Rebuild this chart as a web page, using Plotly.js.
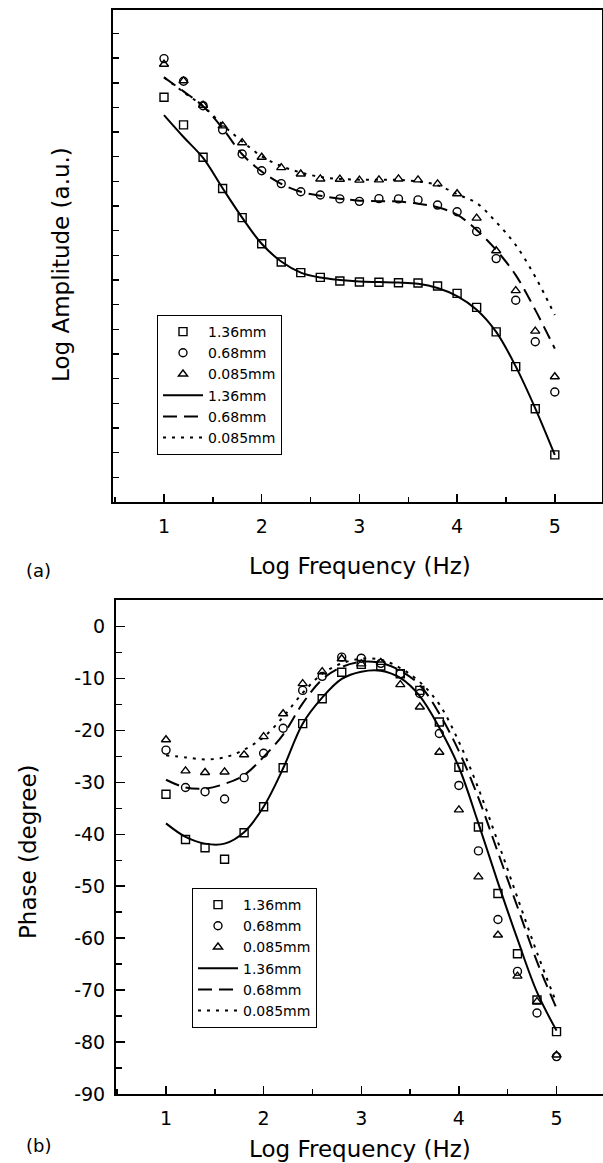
<!DOCTYPE html>
<html>
<head>
<meta charset="utf-8">
<script src="https://cdn.plot.ly/plotly-3.0.1.min.js"></script>
<style>
  html, body { margin: 0; padding: 0; background: #fff; }
  #chart { width: 603px; height: 1163px; }
</style>
</head>
<body>
<div id="chart"></div>
<script>
// ---------- data ----------
const logFreq = [1.0, 1.2, 1.4, 1.6, 1.8, 2.0, 2.2, 2.4, 2.6, 2.8, 3.0, 3.2, 3.4, 3.6, 3.8, 4.0, 4.2, 4.4, 4.6, 4.8, 5.0];
const seriesNames = ["1.36mm", "0.68mm", "0.085mm"];

// (a) log amplitude, arbitrary units — measured points
const ampMeas136 = [16.41, 15.29, 13.98, 12.71, 11.53, 10.47, 9.73, 9.30, 9.11, 8.96, 8.92, 8.91, 8.89, 8.88, 8.76, 8.46, 7.89, 6.90, 5.49, 3.78, 1.91];
const ampMeas068 = [17.98, 17.06, 16.07, 15.09, 14.11, 13.43, 12.91, 12.58, 12.45, 12.29, 12.19, 12.30, 12.29, 12.25, 12.04, 11.77, 10.97, 9.87, 8.18, 6.50, 4.46];
const ampMeas0085 = [17.75, 17.08, 16.09, 15.25, 14.57, 13.98, 13.56, 13.30, 13.10, 13.09, 13.05, 13.06, 13.10, 13.06, 12.90, 12.50, 11.51, 10.19, 8.57, 6.93, 5.08];
// (a) model curves
const ampFit136 = [15.69, 14.80, 13.95, 12.72, 11.53, 10.47, 9.75, 9.30, 9.10, 9.00, 8.94, 8.92, 8.90, 8.85, 8.68, 8.35, 7.80, 6.90, 5.50, 3.80, 1.91];
const ampFit068 = [17.22, 16.65, 16.05, 15.15, 14.10, 13.40, 12.90, 12.58, 12.42, 12.30, 12.22, 12.20, 12.18, 12.10, 11.95, 11.65, 11.03, 10.22, 9.20, 7.79, 6.22];
const ampFit0085 = [17.22, 16.62, 16.05, 15.30, 14.62, 14.02, 13.62, 13.36, 13.18, 13.10, 13.07, 13.07, 13.06, 13.00, 12.85, 12.48, 12.12, 11.35, 10.42, 9.13, 7.58];

// (b) phase, degree — measured points
const phMeas136 = [-32.3, -41.0, -42.6, -44.8, -39.7, -34.7, -27.2, -18.7, -13.9, -8.8, -7.3, -7.6, -9.1, -12.3, -18.4, -27.1, -38.6, -51.4, -63.0, -71.9, -78.0];
const phMeas068 = [-23.8, -31.0, -31.8, -33.2, -29.1, -24.4, -19.6, -12.3, -9.6, -5.9, -6.1, -7.1, -9.1, -12.9, -20.6, -30.6, -43.2, -56.4, -66.4, -74.4, -82.8];
const phMeas0085 = [-21.8, -27.8, -28.1, -28.0, -24.7, -21.2, -16.8, -11.0, -8.7, -6.2, -7.2, -6.9, -11.2, -15.5, -24.2, -35.3, -48.2, -59.4, -67.3, -72.2, -82.5];
// (b) model curves
const phFit136 = [-37.9, -40.5, -41.8, -41.8, -39.6, -34.7, -27.3, -18.7, -13.7, -10.1, -8.7, -8.5, -9.9, -13.4, -19.5, -27.1, -37.9, -49.3, -60.2, -70.4, -77.8];
const phFit068 = [-29.5, -31.0, -31.2, -30.3, -28.6, -25.1, -20.8, -14.8, -10.2, -7.8, -6.8, -7.0, -8.5, -11.3, -16.8, -24.0, -33.0, -43.5, -54.0, -64.5, -73.5];
const phFit0085 = [-24.8, -25.2, -25.6, -25.2, -23.7, -21.3, -17.4, -12.8, -9.1, -7.1, -6.2, -6.4, -8.0, -10.7, -15.0, -22.2, -31.2, -41.5, -52.2, -62.8, -72.5];

const xTicks = [1, 2, 3, 4, 5];
const phaseTicks = [0, -10, -20, -30, -40, -50, -60, -70, -80, -90];
const phaseTickText = ["0", "-10", "-20", "-30", "-40", "-50", "-60", "-70", "-80", "-90"];

// ---------- styling ----------
const W = 603, H = 1163;
const FONT = "DejaVu Sans, Liberation Sans, Arial, sans-serif";
const px = (x) => x / W;
const py = (y) => 1 - y / H;

const symbols = ["square-open", "circle-open", "triangle-up-open"];
const dashes = ["solid", "14px,7px", "3px,6px"];

function markerTrace(y, i, xa, ya, leg) {
  return {
    x: logFreq, y: y, xaxis: xa, yaxis: ya, mode: "markers", type: "scatter",
    name: seriesNames[i], legend: leg, showlegend: true,
    marker: { symbol: symbols[i], size: 8, color: "#000", line: { width: 1.4, color: "#000" } },
    hoverinfo: "skip"
  };
}
function lineTrace(y, i, xa, ya, leg) {
  return {
    x: logFreq, y: y, xaxis: xa, yaxis: ya, mode: "lines", type: "scatter",
    name: seriesNames[i], legend: leg, showlegend: true,
    line: { shape: "spline", smoothing: 1, color: "#000", width: 2, dash: dashes[i] },
    hoverinfo: "skip"
  };
}

const data = [
  markerTrace(ampMeas136, 0, "x", "y", "legend"),
  markerTrace(ampMeas068, 1, "x", "y", "legend"),
  markerTrace(ampMeas0085, 2, "x", "y", "legend"),
  lineTrace(ampFit136, 0, "x", "y", "legend"),
  lineTrace(ampFit068, 1, "x", "y", "legend"),
  lineTrace(ampFit0085, 2, "x", "y", "legend"),
  markerTrace(phMeas136, 0, "x2", "y2", "legend2"),
  markerTrace(phMeas068, 1, "x2", "y2", "legend2"),
  markerTrace(phMeas0085, 2, "x2", "y2", "legend2"),
  lineTrace(phFit136, 0, "x2", "y2", "legend2"),
  lineTrace(phFit068, 1, "x2", "y2", "legend2"),
  lineTrace(phFit0085, 2, "x2", "y2", "legend2")
];

const axisCommon = {
  showgrid: false, zeroline: false, showline: true, linecolor: "#000", linewidth: 2,
  mirror: true, ticks: "inside", tickcolor: "#000", tickwidth: 1.5,
  tickfont: { family: FONT, size: 19, color: "#000" }, automargin: false, fixedrange: true
};

const legendCommon = {
  xanchor: "left", yanchor: "top", bgcolor: "#fff", bordercolor: "#000", borderwidth: 1,
  font: { family: FONT, size: 14, color: "#000" }, itemwidth: 40, traceorder: "normal",
  tracegroupgap: 0, itemclick: false, itemdoubleclick: false
};

const layout = {
  width: W, height: H, margin: { l: 0, r: 0, t: 0, b: 0 },
  paper_bgcolor: "#fff", plot_bgcolor: "#fff", showlegend: true,
  font: { family: FONT, color: "#000" },
  xaxis: Object.assign({}, axisCommon, {
    domain: [px(113), px(601.5)], range: [0.478, 5.478], anchor: "y",
    tickvals: xTicks, ticklen: 8, ticklabelstandoff: 6,
    minor: { dtick: 0.5, tick0: 0, ticks: "inside", ticklen: 5, tickwidth: 1.5, tickcolor: "#000" }
  }),
  yaxis: Object.assign({}, axisCommon, {
    domain: [py(502), py(10)], range: [0, 19.95], anchor: "x",
    tick0: 0, dtick: 1, ticklen: 6, showticklabels: false
  }),
  xaxis2: Object.assign({}, axisCommon, {
    domain: [px(116), 1], range: [0.488, 5.476], anchor: "y2",
    tickvals: xTicks, ticklen: 8, ticklabelstandoff: 6,
    minor: { dtick: 0.5, tick0: 0, ticks: "inside", ticklen: 5, tickwidth: 1.5, tickcolor: "#000" }
  }),
  yaxis2: Object.assign({}, axisCommon, {
    domain: [py(1094), py(600)], range: [-90, 5.1], anchor: "x2",
    tickvals: phaseTicks, ticktext: phaseTickText, ticklen: 9, ticklabelstandoff: 5,
    minor: { dtick: 5, tick0: 0, ticks: "inside", ticklen: 6, tickwidth: 1.5, tickcolor: "#000" }
  }),
  legend: Object.assign({}, legendCommon, { x: px(157), y: py(315) }),
  legend2: Object.assign({}, legendCommon, { x: px(192), y: py(888) }),
  annotations: [
    { text: "Log Amplitude (a.u.)", x: px(61), y: py(265), textangle: -90 },
    { text: "Log Frequency (Hz)", x: px(360), y: py(566) },
    { text: "(a)", x: px(38), y: py(570), size: 18 },
    { text: "Phase (degree)", x: px(28), y: py(852), textangle: -90 },
    { text: "Log Frequency (Hz)", x: px(360), y: py(1149) },
    { text: "(b)", x: px(38), y: py(1145), size: 18 }
  ].map(a => ({
    text: a.text, x: a.x, y: a.y, xref: "paper", yref: "paper",
    xanchor: "center", yanchor: "middle", showarrow: false,
    textangle: a.textangle || 0,
    font: { family: FONT, size: a.size || 23, color: "#000" }
  }))
};

Plotly.newPlot("chart", data, layout, { staticPlot: true, displayModeBar: false });
</script>
</body>
</html>
